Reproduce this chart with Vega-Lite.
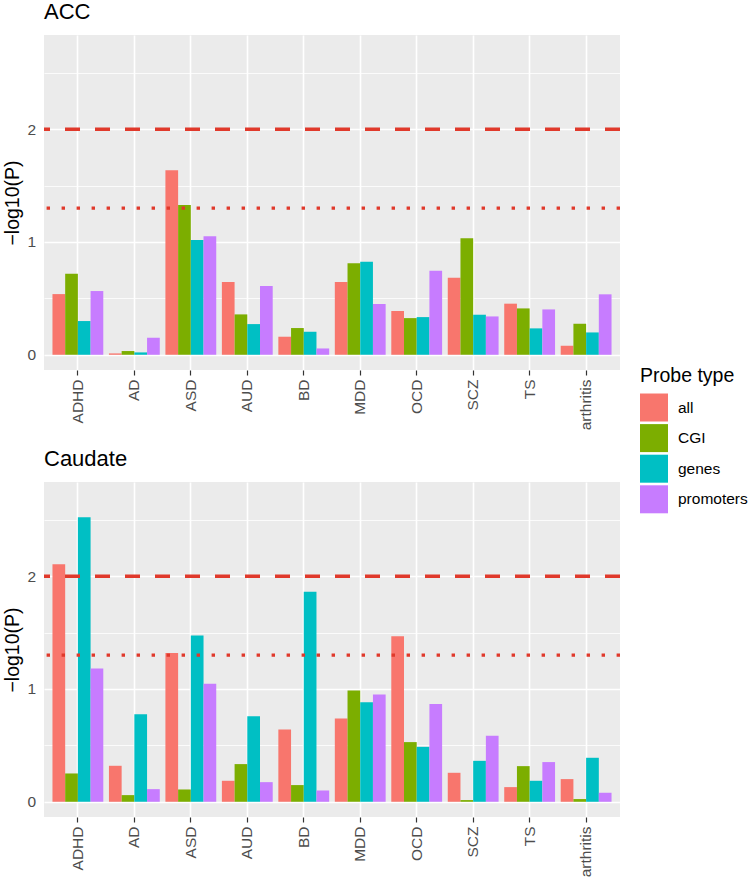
{
  "$schema": "https://vega.github.io/schema/vega-lite/v6.json",
  "padding": {"top": 1, "left": 2, "right": 0, "bottom": 0},
  "background": "white",
  "datasets": {
    "bars": [
      {"region": "ACC", "disorder": "ADHD", "probe": "all", "value": 0.538},
      {"region": "ACC", "disorder": "ADHD", "probe": "CGI", "value": 0.719},
      {"region": "ACC", "disorder": "ADHD", "probe": "genes", "value": 0.299},
      {"region": "ACC", "disorder": "ADHD", "probe": "promoters", "value": 0.565},
      {"region": "ACC", "disorder": "AD", "probe": "all", "value": 0.012},
      {"region": "ACC", "disorder": "AD", "probe": "CGI", "value": 0.033},
      {"region": "ACC", "disorder": "AD", "probe": "genes", "value": 0.021},
      {"region": "ACC", "disorder": "AD", "probe": "promoters", "value": 0.151},
      {"region": "ACC", "disorder": "ASD", "probe": "all", "value": 1.636},
      {"region": "ACC", "disorder": "ASD", "probe": "CGI", "value": 1.328},
      {"region": "ACC", "disorder": "ASD", "probe": "genes", "value": 1.018},
      {"region": "ACC", "disorder": "ASD", "probe": "promoters", "value": 1.05},
      {"region": "ACC", "disorder": "AUD", "probe": "all", "value": 0.645},
      {"region": "ACC", "disorder": "AUD", "probe": "CGI", "value": 0.358},
      {"region": "ACC", "disorder": "AUD", "probe": "genes", "value": 0.272},
      {"region": "ACC", "disorder": "AUD", "probe": "promoters", "value": 0.609},
      {"region": "ACC", "disorder": "BD", "probe": "all", "value": 0.16},
      {"region": "ACC", "disorder": "BD", "probe": "CGI", "value": 0.237},
      {"region": "ACC", "disorder": "BD", "probe": "genes", "value": 0.204},
      {"region": "ACC", "disorder": "BD", "probe": "promoters", "value": 0.056},
      {"region": "ACC", "disorder": "MDD", "probe": "all", "value": 0.645},
      {"region": "ACC", "disorder": "MDD", "probe": "CGI", "value": 0.811},
      {"region": "ACC", "disorder": "MDD", "probe": "genes", "value": 0.825},
      {"region": "ACC", "disorder": "MDD", "probe": "promoters", "value": 0.45},
      {"region": "ACC", "disorder": "OCD", "probe": "all", "value": 0.388},
      {"region": "ACC", "disorder": "OCD", "probe": "CGI", "value": 0.325},
      {"region": "ACC", "disorder": "OCD", "probe": "genes", "value": 0.334},
      {"region": "ACC", "disorder": "OCD", "probe": "promoters", "value": 0.746},
      {"region": "ACC", "disorder": "SCZ", "probe": "all", "value": 0.683},
      {"region": "ACC", "disorder": "SCZ", "probe": "CGI", "value": 1.033},
      {"region": "ACC", "disorder": "SCZ", "probe": "genes", "value": 0.355},
      {"region": "ACC", "disorder": "SCZ", "probe": "promoters", "value": 0.34},
      {"region": "ACC", "disorder": "TS", "probe": "all", "value": 0.453},
      {"region": "ACC", "disorder": "TS", "probe": "CGI", "value": 0.411},
      {"region": "ACC", "disorder": "TS", "probe": "genes", "value": 0.234},
      {"region": "ACC", "disorder": "TS", "probe": "promoters", "value": 0.402},
      {"region": "ACC", "disorder": "arthritis", "probe": "all", "value": 0.08},
      {"region": "ACC", "disorder": "arthritis", "probe": "CGI", "value": 0.275},
      {"region": "ACC", "disorder": "arthritis", "probe": "genes", "value": 0.198},
      {"region": "ACC", "disorder": "arthritis", "probe": "promoters", "value": 0.536},
      {"region": "Caudate", "disorder": "ADHD", "probe": "all", "value": 2.106},
      {"region": "Caudate", "disorder": "ADHD", "probe": "CGI", "value": 0.251},
      {"region": "Caudate", "disorder": "ADHD", "probe": "genes", "value": 2.523},
      {"region": "Caudate", "disorder": "ADHD", "probe": "promoters", "value": 1.182},
      {"region": "Caudate", "disorder": "AD", "probe": "all", "value": 0.319},
      {"region": "Caudate", "disorder": "AD", "probe": "CGI", "value": 0.059},
      {"region": "Caudate", "disorder": "AD", "probe": "genes", "value": 0.777},
      {"region": "Caudate", "disorder": "AD", "probe": "promoters", "value": 0.112},
      {"region": "Caudate", "disorder": "ASD", "probe": "all", "value": 1.318},
      {"region": "Caudate", "disorder": "ASD", "probe": "CGI", "value": 0.109},
      {"region": "Caudate", "disorder": "ASD", "probe": "genes", "value": 1.474},
      {"region": "Caudate", "disorder": "ASD", "probe": "promoters", "value": 1.046},
      {"region": "Caudate", "disorder": "AUD", "probe": "all", "value": 0.186},
      {"region": "Caudate", "disorder": "AUD", "probe": "CGI", "value": 0.334},
      {"region": "Caudate", "disorder": "AUD", "probe": "genes", "value": 0.759},
      {"region": "Caudate", "disorder": "AUD", "probe": "promoters", "value": 0.174},
      {"region": "Caudate", "disorder": "BD", "probe": "all", "value": 0.641},
      {"region": "Caudate", "disorder": "BD", "probe": "CGI", "value": 0.148},
      {"region": "Caudate", "disorder": "BD", "probe": "genes", "value": 1.861},
      {"region": "Caudate", "disorder": "BD", "probe": "promoters", "value": 0.1},
      {"region": "Caudate", "disorder": "MDD", "probe": "all", "value": 0.739},
      {"region": "Caudate", "disorder": "MDD", "probe": "CGI", "value": 0.987},
      {"region": "Caudate", "disorder": "MDD", "probe": "genes", "value": 0.883},
      {"region": "Caudate", "disorder": "MDD", "probe": "promoters", "value": 0.951},
      {"region": "Caudate", "disorder": "OCD", "probe": "all", "value": 1.468},
      {"region": "Caudate", "disorder": "OCD", "probe": "CGI", "value": 0.529},
      {"region": "Caudate", "disorder": "OCD", "probe": "genes", "value": 0.487},
      {"region": "Caudate", "disorder": "OCD", "probe": "promoters", "value": 0.866},
      {"region": "Caudate", "disorder": "SCZ", "probe": "all", "value": 0.257},
      {"region": "Caudate", "disorder": "SCZ", "probe": "CGI", "value": 0.015},
      {"region": "Caudate", "disorder": "SCZ", "probe": "genes", "value": 0.363},
      {"region": "Caudate", "disorder": "SCZ", "probe": "promoters", "value": 0.585},
      {"region": "Caudate", "disorder": "TS", "probe": "all", "value": 0.13},
      {"region": "Caudate", "disorder": "TS", "probe": "CGI", "value": 0.316},
      {"region": "Caudate", "disorder": "TS", "probe": "genes", "value": 0.186},
      {"region": "Caudate", "disorder": "TS", "probe": "promoters", "value": 0.352},
      {"region": "Caudate", "disorder": "arthritis", "probe": "all", "value": 0.201},
      {"region": "Caudate", "disorder": "arthritis", "probe": "CGI", "value": 0.024},
      {"region": "Caudate", "disorder": "arthritis", "probe": "genes", "value": 0.39},
      {"region": "Caudate", "disorder": "arthritis", "probe": "promoters", "value": 0.08}
    ],
    "thresholds": [
      {"kind": "dashed", "threshold": 2},
      {"kind": "dotted", "threshold": 1.3}
    ]
  },
  "spacing": 18,
  "vconcat": [
    {
      "title": {"text": "ACC"},
      "width": 576,
      "height": 335,
      "layer": [
        {
          "data": {"name": "bars"},
          "transform": [{"filter": "datum.region === 'ACC'"}],
          "mark": {"type": "bar"},
          "encoding": {
            "x": {"field": "disorder", "type": "nominal", "sort": ["ADHD", "AD", "ASD", "AUD", "BD", "MDD", "OCD", "SCZ", "TS", "arthritis"], "scale": {"paddingInner": 0.1, "paddingOuter": 0.15}, "title": null},
            "xOffset": {"field": "probe", "type": "nominal", "sort": ["all", "CGI", "genes", "promoters"], "scale": {"paddingInner": 0, "paddingOuter": 0}},
            "y": {"field": "value", "type": "quantitative", "scale": {"domain": [-0.135, 2.835], "nice": false, "zero": false}, "title": "−log10(P)"},
            "y2": {"datum": 0},
            "color": {"field": "probe", "type": "nominal", "scale": {"domain": ["all", "CGI", "genes", "promoters"], "range": ["#F8766D", "#7CAE00", "#00BFC4", "#C77CFF"]}, "legend": {"title": "Probe type"}}
          }
        },
        {
          "data": {"name": "thresholds"},
          "transform": [{"filter": "datum.kind === 'dashed'"}],
          "mark": {"type": "rule", "color": "#E0392B", "strokeWidth": 3.4, "strokeDash": [15, 15]},
          "encoding": {"y": {"field": "threshold", "type": "quantitative"}}
        },
        {
          "data": {"name": "thresholds"},
          "transform": [{"filter": "datum.kind === 'dotted'"}],
          "mark": {"type": "rule", "color": "#E0392B", "strokeWidth": 3.4, "strokeDash": [3.4, 11.6]},
          "encoding": {"y": {"field": "threshold", "type": "quantitative"}}
        }
      ]
    },
    {
      "title": {"text": "Caudate"},
      "width": 576,
      "height": 335,
      "layer": [
        {
          "data": {"name": "bars"},
          "transform": [{"filter": "datum.region === 'Caudate'"}],
          "mark": {"type": "bar"},
          "encoding": {
            "x": {"field": "disorder", "type": "nominal", "sort": ["ADHD", "AD", "ASD", "AUD", "BD", "MDD", "OCD", "SCZ", "TS", "arthritis"], "scale": {"paddingInner": 0.1, "paddingOuter": 0.15}, "title": null},
            "xOffset": {"field": "probe", "type": "nominal", "sort": ["all", "CGI", "genes", "promoters"], "scale": {"paddingInner": 0, "paddingOuter": 0}},
            "y": {"field": "value", "type": "quantitative", "scale": {"domain": [-0.135, 2.835], "nice": false, "zero": false}, "title": "−log10(P)"},
            "y2": {"datum": 0},
            "color": {"field": "probe", "type": "nominal", "scale": {"domain": ["all", "CGI", "genes", "promoters"], "range": ["#F8766D", "#7CAE00", "#00BFC4", "#C77CFF"]}, "legend": {"title": "Probe type"}}
          }
        },
        {
          "data": {"name": "thresholds"},
          "transform": [{"filter": "datum.kind === 'dashed'"}],
          "mark": {"type": "rule", "color": "#E0392B", "strokeWidth": 3.4, "strokeDash": [15, 15]},
          "encoding": {"y": {"field": "threshold", "type": "quantitative"}}
        },
        {
          "data": {"name": "thresholds"},
          "transform": [{"filter": "datum.kind === 'dotted'"}],
          "mark": {"type": "rule", "color": "#E0392B", "strokeWidth": 3.4, "strokeDash": [3.4, 11.6]},
          "encoding": {"y": {"field": "threshold", "type": "quantitative"}}
        }
      ]
    }
  ],
  "config": {
    "font": "Liberation Sans",
    "view": {"fill": "#EBEBEB", "stroke": null},
    "title": {"anchor": "start", "frame": "group", "fontSize": 22, "fontWeight": "normal", "color": "black", "offset": 11, "font": "Liberation Sans"},
    "axis": {
      "domain": false,
      "gridColor": "white",
      "tickColor": "#333333",
      "tickSize": 5,
      "tickWidth": 1.2,
      "labelColor": "#4D4D4D",
      "labelFont": "Liberation Sans",
      "labelFontSize": 15.5,
      "titleFont": "Liberation Sans",
      "titleFontSize": 19.5,
      "titleFontWeight": "normal",
      "titleColor": "black",
      "labelPadding": 3.5
    },
    "axisX": {
      "bandPosition": 0.5,
      "labelAngle": -90,
      "labelAlign": "right",
      "labelBaseline": "middle",
      "labelPadding": 4,
      "gridWidth": 1.6,
      "grid": true
    },
    "axisY": {
      "values": [0, 0.5, 1, 1.5, 2, 2.5],
      "labelExpr": "datum.value % 1 === 0 ? format(datum.value, 'd') : ''",
      "tickOpacity": {"condition": {"test": "datum.value % 1 === 0", "value": 1}, "value": 0},
      "gridWidth": {"condition": {"test": "datum.value % 1 === 0", "value": 1.6}, "value": 0.8},
      "titlePadding": 4
    },
    "legend": {
      "orient": "none",
      "legendX": 596,
      "legendY": 332,
      "titleFontSize": 19.5,
      "titleFontWeight": "normal",
      "titleColor": "black",
      "titleFont": "Liberation Sans",
      "labelFont": "Liberation Sans",
      "labelFontSize": 15.5,
      "labelColor": "black",
      "symbolType": "square",
      "symbolSize": 784,
      "symbolStrokeWidth": 0,
      "symbolOpacity": 1,
      "rowPadding": 2.6,
      "labelOffset": 10,
      "titlePadding": 7
    }
  }
}
